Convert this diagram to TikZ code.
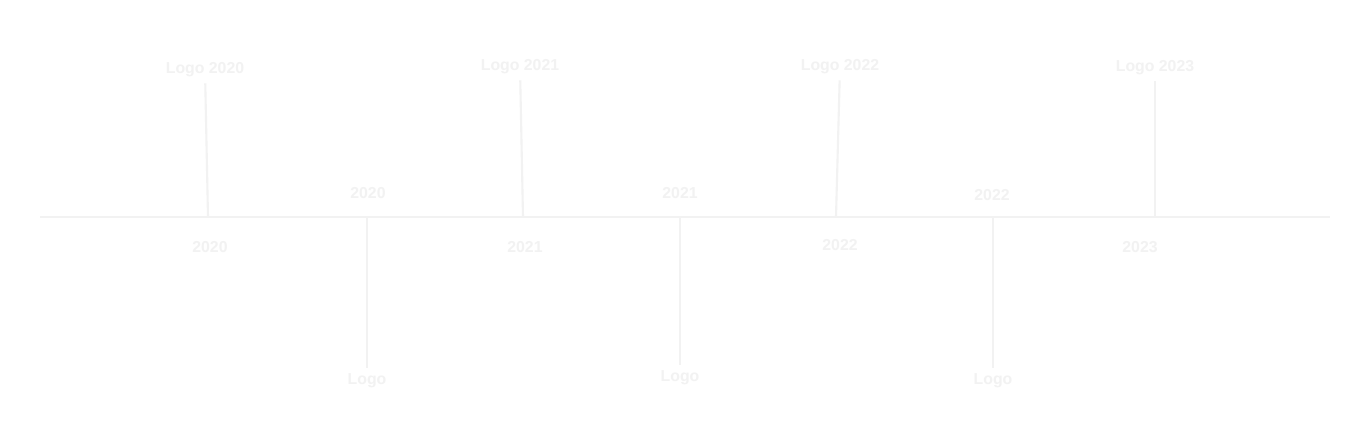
\documentclass[tikz,border=0pt]{standalone}
\usepackage{fontspec}
\setmainfont{Liberation Sans}
\definecolor{faint}{HTML}{F2F2F2}
\begin{document}
\begin{tikzpicture}[x=0.02cm,y=-0.02cm,
  ln/.style={draw=faint,line width=1.2pt},
  yr/.style={text=faint,font=\small\bfseries},
  lg/.style={text=faint,font=\small\bfseries}]
\useasboundingbox[fill=white] (0,0) rectangle (1360,447);
\coordinate (L) at (40,217); \coordinate (R) at (1330,217);
\draw[ln] (L) -- (R);
% top events
\node[lg] (t1) at (205,70) {Logo 2020};
\node[lg] (t2) at (520,67) {Logo 2021};
\node[lg] (t3) at (840,67) {Logo 2022};
\node[lg] (t4) at (1155,68) {Logo 2023};
\coordinate (a1) at (208,217);\coordinate (a2) at (523,217);
\coordinate (a3) at (836,217);\coordinate (a4) at (1155,217);
\draw[ln] (t1) -- (a1); \draw[ln] (t2) -- (a2);
\draw[ln] (t3) -- (a3); \draw[ln] (t4) -- (a4);
\node[yr] (y1) at (210,247) {2020};
\node[yr] (y2) at (525,247) {2021};
\node[yr] (y3) at (840,245) {2022};
\node[yr] (y4) at (1140,247) {2023};
% bottom events
\node[lg] (b1) at (367,381) {Logo};
\node[lg] (b2) at (680,378) {Logo};
\node[lg] (b3) at (993,381) {Logo};
\coordinate (c1) at (367,217);\coordinate (c2) at (680,217);\coordinate (c3) at (993,217);
\draw[ln] (c1) -- (b1); \draw[ln] (c2) -- (b2); \draw[ln] (c3) -- (b3);
\node[yr] (z1) at (368,193) {2020};
\node[yr] (z2) at (680,193) {2021};
\node[yr] (z3) at (992,195) {2022};
\end{tikzpicture}
\end{document}
